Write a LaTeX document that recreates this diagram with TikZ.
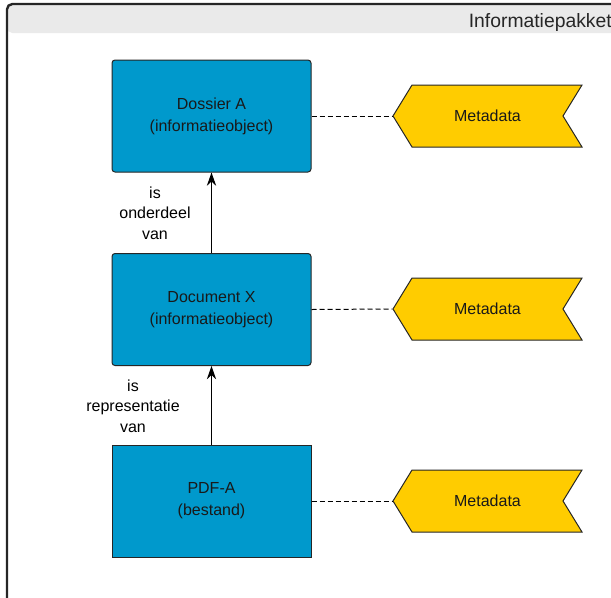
\documentclass[tikz,border=0pt]{standalone}
\usepackage{fontspec}
\setmainfont{Liberation Sans}
\usetikzlibrary{shapes.symbols,arrows.meta}

\definecolor{objblue}{RGB}{0,153,204}
\definecolor{metayellow}{RGB}{255,204,0}
\definecolor{headgray}{RGB}{234,234,234}

\tikzset{
  objbox/.style={draw=black!85, fill=objblue, line width=0.75pt, text=black!90,
    minimum width=149.25pt, minimum height=84pt, align=center,
    font=\fontsize{12}{16.5}\selectfont},
  metabox/.style={signal, signal to=west, signal from=east, signal pointer angle=117,
    draw=black!85, fill=metayellow, line width=0.75pt, text=black!90, inner sep=0pt,
    minimum width=141.75pt, minimum height=46.5pt, font=\fontsize{12}{14}\selectfont},
  rel/.style={align=center, font=\fontsize{12}{15.4}\selectfont},
  link/.style={dashed, dash pattern=on 3.75pt off 2.25pt, line width=0.75pt},
}

\begin{document}
\begin{tikzpicture}[x=0.75pt, y=-0.75pt]
  \useasboundingbox (0,0) rectangle (611,597);
  \clip (0,0) rectangle (611,597);

  % kader informatiepakket
  \fill[headgray, rounded corners=4pt] (7,4) rectangle (660,33);
  \draw[line width=1.8pt, black!85, rounded corners=4pt] (7,640) -- (7,4) -- (660,4);
  \node[anchor=base east, inner sep=0pt, text=black!85, font=\fontsize{14.5}{18}\selectfont] (titel) at (612,27) {Informatiepakket};

  \node[objbox, rounded corners=2.25pt] (dossier) at (211.5,116) {Dossier A\\(informatieobject)};
  \node[objbox, rounded corners=2.25pt] (document) at (211.5,309.5) {Document X\\(informatieobject)};
  \node[objbox] (pdf) at (211.5,501) {PDF-A\\(bestand)};

  \node[metabox] (meta1) at (487.5,116) {Metadata};
  \node[metabox] (meta2) at (487.5,309) {Metadata};
  \node[metabox] (meta3) at (487.5,501) {Metadata};

  \draw[link] (dossier.east) -- (meta1.west);
  \draw[link] (document.east) -- (meta2.west);
  \draw[link] (pdf.east) -- (meta3.west);

  \draw[-{Stealth[length=10pt, width=7pt]}, line width=0.8pt] (document.north) -- (dossier.south);
  \draw[-{Stealth[length=10pt, width=7pt]}, line width=0.8pt] (pdf.north) -- (document.south);

  \node[rel] (onderdeel) at (155,213) {is\\onderdeel\\van};
  \node[rel] (representatie) at (133,406) {is\\representatie\\van};
\end{tikzpicture}
\end{document}
